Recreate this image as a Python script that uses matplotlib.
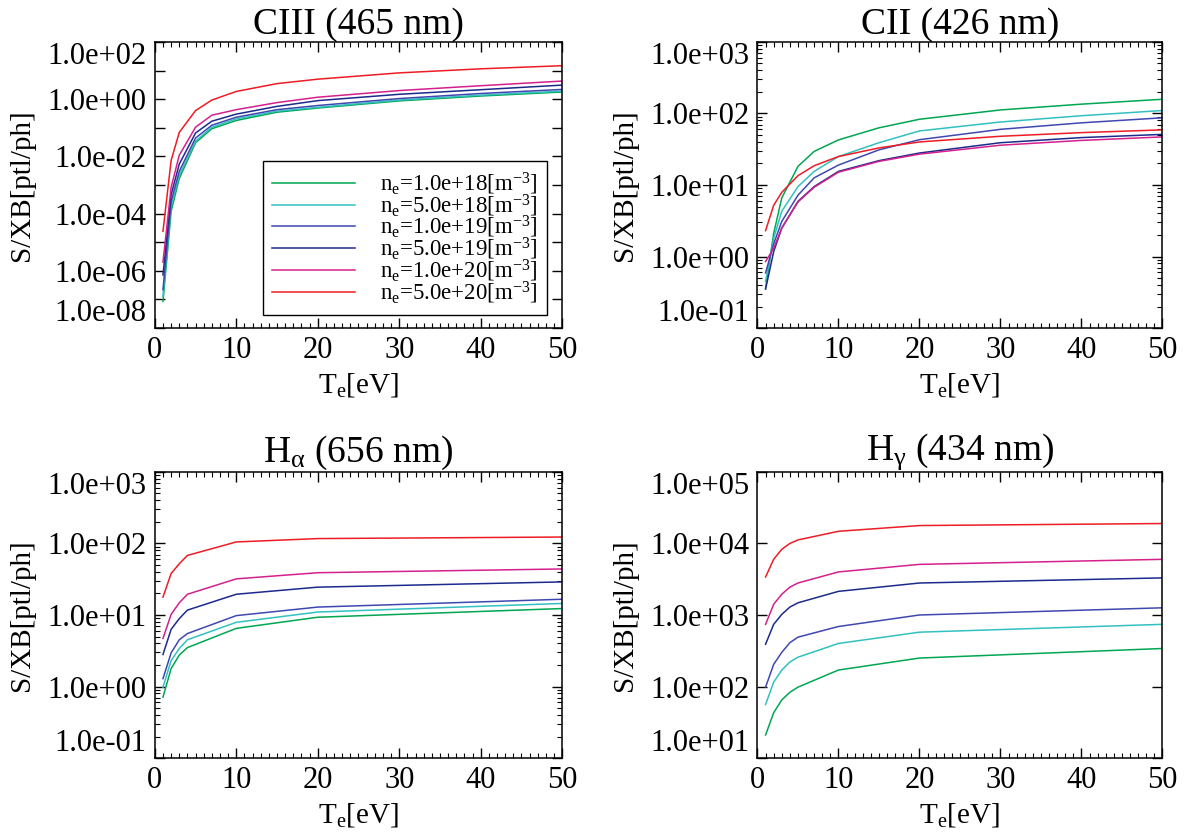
import matplotlib
matplotlib.use("Agg")
import matplotlib.pyplot as plt
from matplotlib.ticker import MultipleLocator, LogLocator, NullLocator

plt.rcParams["font.family"] = "Liberation Serif"
plt.rcParams["mathtext.fontset"] = "custom"
plt.rcParams["mathtext.rm"] = "Liberation Serif"
plt.rcParams["mathtext.it"] = "Liberation Serif:italic"

# electron densities [m^-3] and line colours
dens_labels = ["1.0e+18", "5.0e+18", "1.0e+19", "5.0e+19", "1.0e+20", "5.0e+20"]
colors = ["#00a651", "#33c0c0", "#3f48b0", "#1c2a8c", "#d4208c", "#ee1c25"]

# CIII 465 nm
te_ciii = [1, 2, 3, 5, 7, 10, 15, 20, 30, 40, 50]
sxb_ciii = [
    [8.5e-8, 1.2e-4, 1.7e-3, 3.0e-2, 9.3e-2, 0.18, 0.35, 0.49, 0.87, 1.29, 1.78],
    [1.3e-7, 1.8e-4, 2.2e-3, 3.4e-2, 0.105, 0.204, 0.38, 0.52, 0.93, 1.38, 1.91],
    [2.2e-7, 2.7e-4, 3.0e-3, 4.4e-2, 0.123, 0.234, 0.43, 0.60, 1.05, 1.58, 2.19],
    [7.2e-7, 4.6e-4, 5.4e-3, 6.6e-2, 0.17, 0.30, 0.56, 0.89, 1.48, 2.14, 3.1],
    [2.0e-6, 8.3e-4, 1.1e-2, 0.105, 0.275, 0.43, 0.76, 1.17, 2.0, 2.95, 4.3],
    [2.4e-5, 7.2e-3, 6.9e-2, 0.40, 0.93, 1.86, 3.5, 5.0, 8.3, 11.5, 14.8],
]

# CII 426 nm
te_cii = [1, 2, 3, 5, 7, 10, 15, 20, 30, 40, 50]
sxb_cii = [
    [0.36, 2.1, 6.6, 18.2, 29.5, 42.7, 63, 83, 112, 135, 158],
    [0.45, 1.8, 4.3, 9.5, 15.5, 25, 39, 57, 76, 93, 110],
    [0.59, 1.5, 3.1, 7.2, 12.6, 19, 31, 43, 60, 74, 87],
    [0.35, 1.17, 2.5, 5.9, 9.5, 15.5, 21.9, 28, 39, 46, 51],
    [0.85, 1.3, 2.5, 5.8, 9.3, 15.1, 21.4, 27, 36, 42, 47],
    [2.3, 5.2, 7.9, 13.5, 18.6, 25, 33, 40, 48, 54, 59],
]

# H-alpha 656 nm
te_ha = [1, 2, 3, 4, 10, 20, 50]
sxb_ha = [
    [0.71, 1.78, 2.75, 3.5, 6.5, 9.3, 12.3],
    [0.98, 2.3, 3.4, 4.5, 7.9, 11.0, 14.5],
    [1.29, 2.95, 4.5, 5.5, 9.8, 12.9, 16.6],
    [2.8, 6.3, 8.9, 11.7, 19.5, 24.5, 29],
    [4.7, 10.2, 14.8, 19.5, 32, 39, 44],
    [17.8, 38, 52, 68, 105, 117, 123],
]

# H-gamma 434 nm
te_hg = [1, 2, 3, 4, 5, 10, 20, 50]
sxb_hg = [
    [21, 43, 65, 83, 98, 170, 250, 340],
    [56, 115, 170, 220, 257, 400, 575, 740],
    [98, 204, 300, 410, 490, 690, 1000, 1260],
    [390, 740, 1020, 1290, 1480, 2140, 2800, 3300],
    [740, 1410, 1950, 2450, 2800, 4000, 5100, 6000],
    [3400, 6000, 8300, 10000, 11200, 14800, 17800, 19000],
]

panels = [
    ("CIII (465 nm)", te_ciii, sxb_ciii, -8, 2),
    ("CII (426 nm)", te_cii, sxb_cii, -1, 3),
    (r"H$_\mathregular{\alpha}$ (656 nm)", te_ha, sxb_ha, -1, 3),
    (r"H$_\mathregular{\gamma}$ (434 nm)", te_hg, sxb_hg, 1, 5),
]
rects = [
    [0.130, 0.609, 0.342, 0.341],
    [0.636, 0.609, 0.340, 0.341],
    [0.130, 0.0965, 0.342, 0.341],
    [0.636, 0.0965, 0.340, 0.341],
]

fig = plt.figure(figsize=(11.91, 8.39), dpi=100)

for i, (title, te, sxb, lo, hi) in enumerate(panels):
    ax = fig.add_axes(rects[i])
    for j, y in enumerate(sxb):
        ax.plot(te, y, color=colors[j], lw=1.1,
                label=r"n$_\mathregular{e}$=" + dens_labels[j] + r"[m$^\mathregular{-3}$]")
    ax.set_yscale("log")
    ax.set_xlim(0, 50)
    ax.set_ylim(10.0 ** lo, 10.0 ** hi)

    decades = list(range(lo, hi + 1))
    ticks = [10.0 ** d for d in decades]
    if hi - lo > 5:
        labels = [f"{t:.1e}" if (d - lo) % 2 == 0 else "" for d, t in zip(decades, ticks)]
        ax.yaxis.set_minor_locator(NullLocator())
    else:
        labels = [f"{t:.1e}" for t in ticks]
        ax.yaxis.set_minor_locator(LogLocator(base=10, subs=range(2, 10)))
    ax.set_yticks(ticks, labels=labels)
    ax.xaxis.set_major_locator(MultipleLocator(10))
    ax.xaxis.set_minor_locator(MultipleLocator(1))

    ax.tick_params(which="both", direction="in", top=True, right=True, labelsize=22)
    ax.tick_params(which="major", length=7, width=1)
    ax.tick_params(which="minor", length=3.5, width=0.8)
    ax.tick_params(axis="x", pad=6)
    ax.tick_params(axis="y", pad=6)
    for s in ax.spines.values():
        s.set_linewidth(1.1)

    ylabs = ax.get_yticklabels()
    ylabs[0].set_va("bottom")
    ylabs[-1].set_va("top")

    ax.set_title(title, fontsize=27, pad=5)
    ax.set_xlabel(r"T$_\mathregular{e}$[eV]", fontsize=21, labelpad=4)
    ax.set_ylabel("S/XB[ptl/ph]", fontsize=21, labelpad=9)

    if i == 0:
        ax.legend(loc="lower right", bbox_to_anchor=(0.963, 0.045), fontsize=16.5,
                  frameon=True, fancybox=False, edgecolor="black", framealpha=1,
                  handlelength=3.6, handletextpad=1.1, labelspacing=-0.19,
                  borderpad=0.4, borderaxespad=0)

fig.savefig("out.png", dpi=100)
